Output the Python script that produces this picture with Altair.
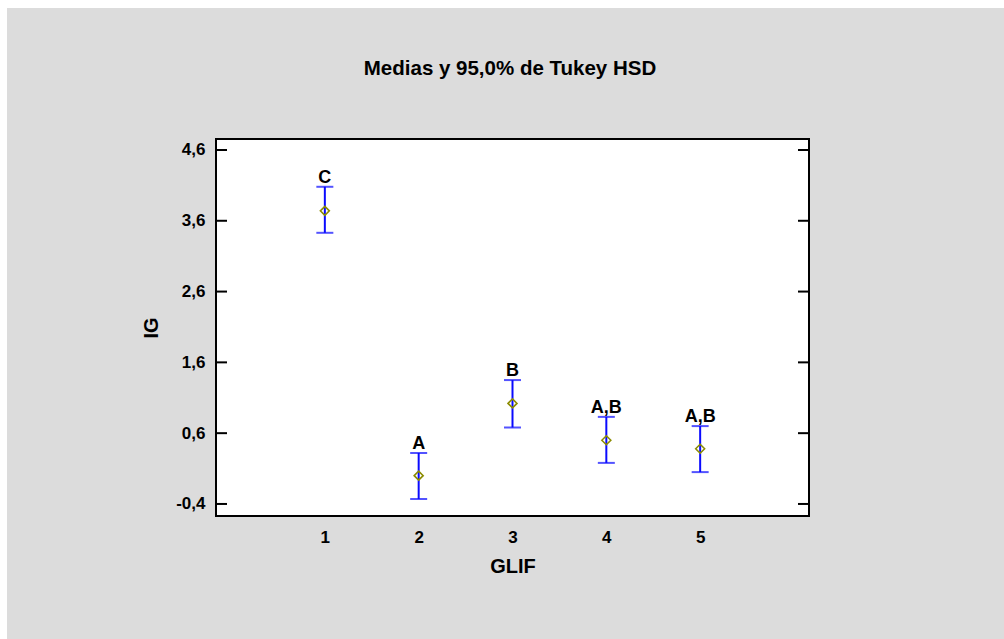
import altair as alt
import pandas as pd

# Tukey HSD means and 95% intervals of IG for each GLIF group
glif = [1, 2, 3, 4, 5]
means = [3.74, 0.00, 1.02, 0.50, 0.38]
lower = [3.43, -0.33, 0.68, 0.18, 0.05]
upper = [4.08, 0.32, 1.35, 0.83, 0.70]
groups = ["C", "A", "B", "A,B", "A,B"]

y_ticks = [-0.4, 0.6, 1.6, 2.6, 3.6, 4.6]
x_ticks = [1, 2, 3, 4, 5]

W, H = 593, 377
FONT = "Liberation Sans"
BLUE = "#0a0aff"
OLIVE = "#8c8c00"

df = pd.DataFrame({"GLIF": glif, "IG": means, "lo": lower, "hi": upper, "grp": groups})
ticks_df = pd.DataFrame({"v": y_ticks})
one = alt.Data(values=[{}])

x_scale = alt.Scale(domain=[-0.16, 6.16], nice=False, zero=False)
y_scale = alt.Scale(domain=[-0.57, 4.755], nice=False, zero=False)

x_axis = alt.Axis(
    values=x_ticks, format="d", grid=False, ticks=False, tickSize=0, domain=False, zindex=1,
    labelFont=FONT, labelFontSize=17, labelFontWeight="bold", labelColor="black",
    labelBaseline="alphabetic", labelPadding=26,
    title="GLIF", titleFont=FONT, titleFontSize=20, titleFontWeight="bold",
    titleColor="black", titleBaseline="alphabetic", titleX=W / 2, titleY=56,
)
y_axis = alt.Axis(
    values=y_ticks, grid=False, ticks=False, tickSize=0, domain=False, zindex=1,
    labelExpr="replace(replace(format(datum.value, '.1f'), '.', ','), '\u2212', '-')",
    labelFont=FONT, labelFontSize=17, labelFontWeight="bold", labelColor="black",
    labelPadding=11,
    title="IG", titleFont=FONT, titleFontSize=20, titleFontWeight="bold",
    titleColor="black", titleBaseline="alphabetic", titleX=-59, titleY=H / 2,
)

# grey panel behind everything
panel = alt.Chart(one).mark_rect(color="#dcdcdc").encode(
    x=alt.value(-209), x2=alt.value(W + 195), y=alt.value(-131), y2=alt.value(H + 123)
)

# white plotting area with black frame
frame = alt.Chart(one).mark_rect(fill="white", stroke="black", strokeWidth=2).encode(
    x=alt.value(0), x2=alt.value(W), y=alt.value(0), y2=alt.value(H)
)

title = alt.Chart(one).mark_text(
    text="Medias y 95,0% de Tukey HSD", font=FONT, fontSize=20.5, fontWeight="bold",
    color="black", align="center", baseline="alphabetic",
).encode(x=alt.value(294), y=alt.value(-64))

# inward tick marks on the left and right edges
left_ticks = alt.Chart(ticks_df).mark_rule(color="black", strokeWidth=2).encode(
    x=alt.value(0), x2=alt.value(11), y=alt.Y("v:Q", scale=y_scale)
)
right_ticks = alt.Chart(ticks_df).mark_rule(color="black", strokeWidth=2).encode(
    x=alt.value(W - 11), x2=alt.value(W), y=alt.Y("v:Q", scale=y_scale)
)

base = alt.Chart(df)

bars = base.mark_rule(color=BLUE, strokeWidth=2).encode(
    x=alt.X("GLIF:Q", scale=x_scale, axis=x_axis),
    y=alt.Y("lo:Q", scale=y_scale, axis=y_axis),
    y2="hi:Q",
)
caps_hi = base.mark_tick(color=BLUE, orient="horizontal", size=17, thickness=2).encode(
    x=alt.X("GLIF:Q", scale=x_scale), y=alt.Y("hi:Q", scale=y_scale)
)
caps_lo = base.mark_tick(color=BLUE, orient="horizontal", size=17, thickness=2).encode(
    x=alt.X("GLIF:Q", scale=x_scale), y=alt.Y("lo:Q", scale=y_scale)
)
points = base.mark_point(
    shape="diamond", filled=False, color=OLIVE, size=80, strokeWidth=1.6, opacity=1
).encode(x=alt.X("GLIF:Q", scale=x_scale), y=alt.Y("IG:Q", scale=y_scale))

labels = base.mark_text(
    font=FONT, fontSize=18, fontWeight="bold", color="black",
    align="center", baseline="alphabetic", dy=-4,
).encode(
    x=alt.X("GLIF:Q", scale=x_scale), y=alt.Y("hi:Q", scale=y_scale), text="grp:N"
)

chart = alt.layer(
    panel, frame, title, left_ticks, right_ticks, bars, caps_hi, caps_lo, points, labels
).properties(
    width=W, height=H,
    autosize=alt.AutoSizeParams(type="none"),
    padding={"left": 216, "top": 139, "right": 195, "bottom": 123},
    background="white",
).configure_view(stroke=None)

chart.save("out.html", embed_options={"renderer": "svg", "actions": False})
